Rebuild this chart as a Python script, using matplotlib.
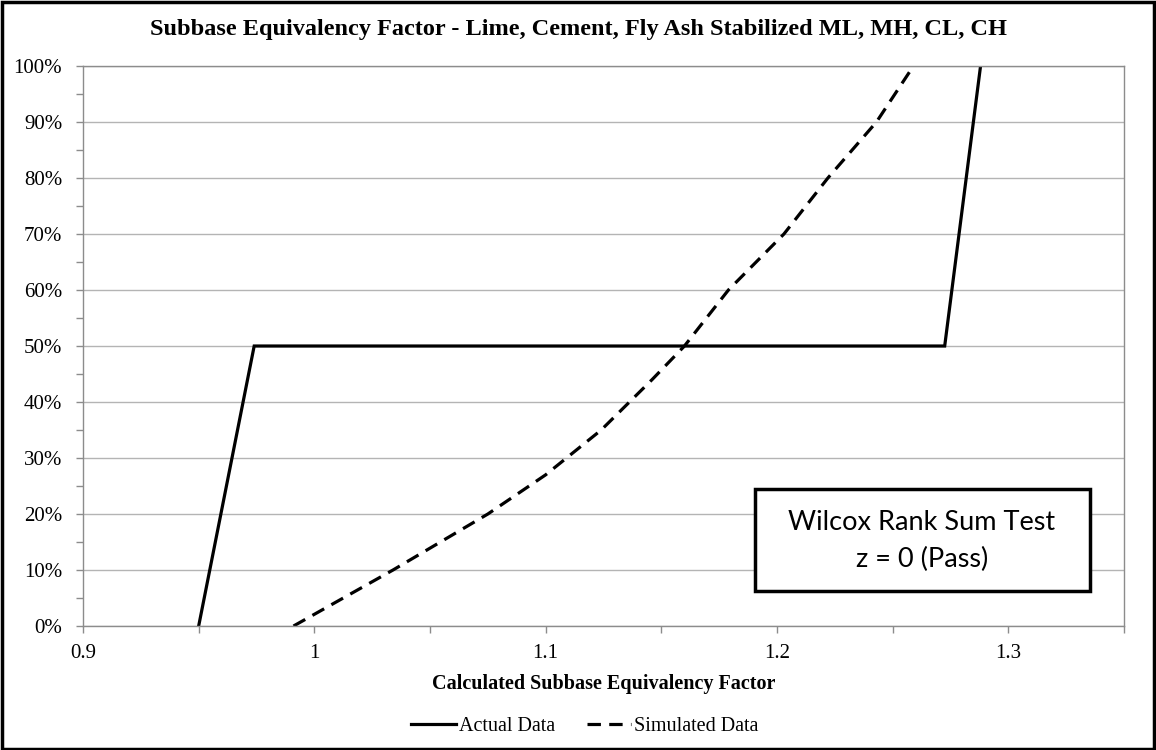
"""
Subbase equivalency factor: actual vs simulated cumulative distribution
"""
import matplotlib
matplotlib.use('Agg')
import matplotlib.pyplot as plt
from matplotlib.patches import Rectangle
from matplotlib.ticker import MultipleLocator, FuncFormatter

# data
actual_x = [0.950, 0.974, 1.2725, 1.288]
actual_y = [0.00, 0.50, 0.50, 1.00]

sim_x = [0.991, 1.034, 1.075, 1.100, 1.124, 1.146, 1.160, 1.179, 1.203, 1.222, 1.243, 1.259]
sim_y = [0.00, 0.10, 0.20, 0.27, 0.35, 0.44, 0.50, 0.60, 0.70, 0.80, 0.90, 1.00]

title = 'Subbase Equivalency Factor - Lime, Cement, Fly Ash Stabilized ML, MH, CL, CH'
x_title = 'Calculated Subbase Equivalency Factor'
box_lines = ['Wilcox Rank Sum Test', 'z = 0 (Pass)']

serif = 'Liberation Serif'
grid_gray = '#b4b4b4'
axis_gray = '#8c8c8c'

fig = plt.figure(figsize=(11.56, 7.5), dpi=100)
ax = fig.add_axes([0.0718, 0.1653, 0.9005, 0.7467])

ax.plot(actual_x, actual_y, color='black', lw=2.3, label='Actual Data',
        solid_joinstyle='miter')
ax.plot(sim_x, sim_y, color='black', lw=2.3, linestyle=(0, (4.2, 2.6)),
        label='Simulated Data')

ax.set_xlim(0.9, 1.35)
ax.set_ylim(0, 1)

# ticks every 0.05 / 5%, labels every 0.1 / 10%
ax.xaxis.set_major_locator(MultipleLocator(0.1))
ax.xaxis.set_minor_locator(MultipleLocator(0.05))
ax.yaxis.set_major_locator(MultipleLocator(0.1))
ax.yaxis.set_minor_locator(MultipleLocator(0.05))
ax.xaxis.set_major_formatter(FuncFormatter(lambda v, p: f'{v:g}'))
ax.yaxis.set_major_formatter(FuncFormatter(lambda v, p: f'{v * 100:.0f}%'))

for which in ('major', 'minor'):
    ax.tick_params(axis='both', which=which, direction='out', length=5,
                   width=1, color=axis_gray)
ax.tick_params(axis='x', which='major', pad=8)
ax.tick_params(axis='y', which='major', pad=10)
for lbl in ax.get_xticklabels() + ax.get_yticklabels():
    lbl.set_fontfamily(serif)
    lbl.set_fontsize(15)

ax.grid(axis='y', which='major', color=grid_gray, lw=1)
ax.set_axisbelow(True)
for side in ('left', 'bottom', 'right', 'top'):
    ax.spines[side].set_color(axis_gray)
    ax.spines[side].set_linewidth(1)

ax.set_xlabel(x_title, fontfamily=serif, fontsize=14.5, fontweight='bold', labelpad=8)
fig.text(0.5, 0.961, title, ha='center', va='center', fontfamily=serif,
         fontsize=17.5, fontweight='bold')

# test result box
ax.add_patch(Rectangle((0.6455, 0.0625), 0.3218, 0.1821, transform=ax.transAxes,
                       facecolor='white', edgecolor='black', lw=2.5, zorder=5))
ax.text(0.806, 0.184, box_lines[0], transform=ax.transAxes, ha='center', va='center',
        fontfamily='Lato', fontsize=19.5, zorder=6)
ax.text(0.806, 0.118, box_lines[1], transform=ax.transAxes, ha='center', va='center',
        fontfamily='Lato', fontsize=19.5, zorder=6)

fig.legend(loc='center', bbox_to_anchor=(0.506, 0.032), ncol=2, frameon=False,
           prop={'family': serif, 'size': 14.5}, handlelength=2.2, handletextpad=0.15,
           columnspacing=1.6)

# black frame around the whole chart
fig.patches.append(Rectangle((0.0015, 0.002), 0.997, 0.996, transform=fig.transFigure,
                             fill=False, edgecolor='black', lw=2.5))

fig.savefig('out.png', dpi=100)
